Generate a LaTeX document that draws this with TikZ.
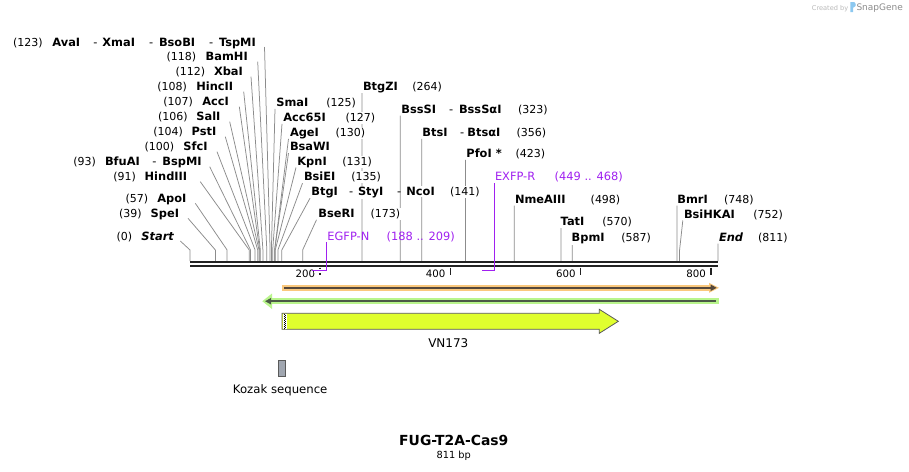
\documentclass[tikz,border=0pt]{standalone}
\usepackage{fontspec}
\setmainfont{DejaVu Sans}
\usetikzlibrary{arrows.meta}
\definecolor{siteg}{RGB}{140,140,140}
\definecolor{barblk}{RGB}{34,34,34}
\definecolor{primc}{RGB}{160,32,240}
\definecolor{orgband}{RGB}{250,200,125}
\definecolor{orgline}{RGB}{85,72,60}
\definecolor{grnband}{RGB}{185,245,140}
\definecolor{grnline}{RGB}{75,90,70}
\definecolor{featy}{RGB}{224,255,46}
\definecolor{featedge}{RGB}{90,90,90}
\definecolor{kozakc}{RGB}{160,166,176}
\definecolor{wmlight}{RGB}{185,185,185}
\definecolor{wmdark}{RGB}{140,140,140}
\definecolor{wmblue}{RGB}{140,200,240}
\pgfdeclarelayer{back}
\pgfdeclarelayer{bg}
\pgfsetlayers{back,bg,main}
\newcommand{\fszname}{\fontsize{11.4}{13}\selectfont}
\newcommand{\fsznum}{\fontsize{11}{13}\selectfont}
% #1 id, #2 bp, #3 number x, #4 name x, #5 name right edge, #6 y, #7 name
\newcommand{\LeftSite}[7]{%
  \begin{pgfonlayer}{bg}
  \coordinate (b#1) at ({190+#2*0.65105},261);
  \coordinate (s#1) at ({190+#2*0.65105},250);
  \coordinate (e#1) at ({#5+7},{#6+5});
  \draw[siteline] (b#1) -- (s#1) -- (e#1);
  \end{pgfonlayer}
  \node[numlbl] (m#1) at (#3,#6) {(#2)};
  \node[namelbl] (n#1) at (#4,#6) {#7};
}
% #1 id, #2 bp, #3 name x, #4 number x, #5 y, #6 name, #7 line end x
\newcommand{\RightSite}[7]{%
  \begin{pgfonlayer}{bg}
  \coordinate (b#1) at ({190+#2*0.65105},261);
  \coordinate (s#1) at ({190+#2*0.65105},250);
  \coordinate (e#1) at ({#7},{#5+6.5});
  \draw[siteline] (b#1) -- (s#1) -- (e#1);
  \end{pgfonlayer}
  \node[namelbl] (n#1) at (#3,#5) {#6};
  \node[numlbl] (m#1) at (#4,#5) {(#2)};
}
\begin{document}
\begin{tikzpicture}[x=1pt,y=-1pt,
  siteline/.style={draw=siteg, line width=0.75pt},
  lblbase/.style={inner xsep=0.5pt, inner ysep=1pt, fill=white, anchor=base west, yshift=-4.1pt},
  numlbl/.style={lblbase, font=\fsznum},
  namelbl/.style={lblbase, font=\fszname\bfseries},
  dashlbl/.style={lblbase, font=\fszname, fill=none},
  primer/.style={draw=primc, line width=1.5pt},
  primlbl/.style={anchor=base west, yshift=-4.1pt, inner sep=0.5pt, font=\fszname, text=primc},
  ticklbl/.style={anchor=base east, inner sep=0pt, font=\fontsize{10.2}{12}\selectfont},
  tickmark/.style={draw=barblk, line width=1.5pt},
  barline/.style={draw=barblk, line width=2.4pt}
]
\useasboundingbox (0,0) rectangle (909,471);
\begin{pgfonlayer}{back}
\fill[white] (0,0) rectangle (909,471);
\end{pgfonlayer}

% ---------------- left-side sites ----------------
\LeftSite{123}{123}{12.3}{51.7}{257.5}{42}{AvaI}
\node[dashlbl] (d123a) at (92.7,42) {-};
\node[namelbl] (n123b) at (101.7,42) {XmaI};
\node[dashlbl] (d123b) at (148.3,42) {-};
\node[namelbl] (n123c) at (158.3,42) {BsoBI};
\node[dashlbl] (d123c) at (208.3,42) {-};
\node[namelbl] (n123d) at (218.3,42) {TspMI};
\LeftSite{118}{118}{166}{205}{250.7}{56.7}{BamHI}
\LeftSite{112}{112}{175}{213.3}{244}{71.7}{XbaI}
\LeftSite{108}{108}{156.7}{195.7}{236.7}{86.7}{HincII}
\LeftSite{107}{107}{162.7}{201.7}{232.3}{101.7}{AccI}
\LeftSite{106}{106}{157.3}{195.7}{222.7}{116.7}{SalI}
\LeftSite{104}{104}{152.7}{191}{218.3}{131.7}{PstI}
\LeftSite{100}{100}{144}{182.7}{210}{146.7}{SfcI}
\LeftSite{93}{93}{72.7}{104.3}{202.7}{161.7}{BfuAI}
\node[dashlbl] (d93) at (151.7,161.7) {-};
\node[namelbl] (n93b) at (161.7,161.7) {BspMI};
\LeftSite{91}{91}{112.7}{144}{193.3}{176.7}{HindIII}
\LeftSite{57}{57}{125}{156.7}{188.3}{198.3}{ApoI}
\LeftSite{39}{39}{118.3}{150}{181}{213.3}{SpeI}
\LeftSite{0}{0}{116}{140.7}{173.3}{236}{\itshape Start}

% ---------------- right-side sites ----------------
\RightSite{125}{125}{275.7}{325.7}{102.3}{SmaI}{275}
\RightSite{127}{127}{282.7}{345}{117.3}{Acc65I}{282}
\RightSite{130}{130}{289.3}{335}{132.3}{AgeI}{288.5}
\begin{pgfonlayer}{bg}
\coordinate (bBsa) at ({190+130*0.65105},261);
\coordinate (sBsa) at ({190+130*0.65105},250);
\coordinate (eBsa) at (288.5,153.2);
\draw[siteline] (bBsa) -- (sBsa) -- (eBsa);
\end{pgfonlayer}
\node[namelbl] (nBsa) at (289.3,146.7) {BsaWI};
\RightSite{131}{131}{296.7}{341.7}{161}{KpnI}{296}
\RightSite{135}{135}{303.3}{350.7}{176.7}{BsiEI}{302.5}
\RightSite{141}{141}{310.7}{449.3}{191.7}{BtgI}{310}
\node[dashlbl] (d141a) at (348.3,191.7) {-};
\node[namelbl] (n141b) at (357.3,191.7) {StyI};
\node[dashlbl] (d141b) at (396.5,191.7) {-};
\node[namelbl] (n141c) at (405.7,191.7) {NcoI};
\RightSite{173}{173}{317.7}{370}{213.3}{BseRI}{316.5}
\RightSite{264}{264}{362.3}{411.7}{86.7}{BtgZI}{361.9}
\RightSite{323}{323}{400.7}{517.3}{109}{BssSI}{400.3}
\node[dashlbl] (d323) at (448.3,109) {-};
\node[namelbl] (n323b) at (458.3,109) {BssSαI};
\RightSite{356}{356}{421.7}{516}{132.3}{BtsI}{421.8}
\node[dashlbl] (d356) at (459.3,132.3) {-};
\node[namelbl] (n356b) at (466.7,132.3) {BtsαI};
\RightSite{423}{423}{465.7}{515}{153.3}{PfoI *}{465.4}
\RightSite{498}{498}{514.3}{590}{199}{NmeAIII}{514.2}
\RightSite{570}{570}{560}{601.7}{221.7}{TatI}{561.1}
\RightSite{587}{587}{571}{620.7}{237.3}{BpmI}{572.2}
\RightSite{748}{748}{676.7}{723.3}{199}{BmrI}{677}
\RightSite{752}{752}{683.3}{752.7}{214}{BsiHKAI}{682.8}
\RightSite{811}{811}{718.3}{757.3}{237}{\itshape End}{718}

% ---------------- sequence bar ----------------
\draw[barline] (190,262.2) -- (718,262.2);
\draw[barline] (190,266.2) -- (718,266.2);
\foreach \v/\tx in {200/320.2, 400/450.4, 600/580.6, 800/710.8}{
  \draw[tickmark] (\tx,267.5) -- (\tx,274.5);
  \node[ticklbl] (tk\v) at ({\tx-4.8},277.7) {\v};
}

% ---------------- primers ----------------
\coordinate (pNtop) at (326.4,242);
\coordinate (pNbend) at (326.4,270.7);
\coordinate (pNend) at (312.3,270.7);
\draw[white, line width=3.6pt] (313.5,270.7) -- (325.4,270.7);
\draw[primer] (pNtop) -- (pNbend) -- (pNend);
\node[primlbl] (lEGFP) at (326.7,236.7) {EGFP-N};
\node[primlbl] (rEGFP) at (386,236.7) {(188 .. 209)};

\coordinate (pRtop) at (494.3,183);
\coordinate (pRbend) at (494.3,270.7);
\coordinate (pRend) at (482.3,270.7);
\draw[white, line width=3.6pt] (483.3,270.7) -- (493.3,270.7);
\draw[primer] (pRtop) -- (pRbend) -- (pRend);
\node[primlbl] (lEXFP) at (494.3,176.7) {EXFP-R};
\node[primlbl] (rEXFP) at (554,176.7) {(449 .. 468)};

% ---------------- orange feature (forward) ----------------
\fill[orgband] (282.3,285) rectangle (712,290.6);
\fill[orgband] (709,282.8) -- (719,287.8) -- (709,292.8) -- cycle;
\draw[orgline, line width=1.5pt, -{Triangle[length=6pt,width=6pt]}] (284.3,287.8) -- (716.7,287.8);

% ---------------- green feature (reverse) ----------------
\fill[grnband] (270,298.4) rectangle (719,304.1);
\fill[grnband] (262.3,301.2) -- (272,293.5) -- (272,309) -- cycle;
\draw[grnline, line width=1.5pt, {Triangle[length=6pt,width=6pt]}-] (265,301.2) -- (716,301.2);

% ---------------- VN173 ----------------
\draw[featedge, fill=featy, line width=0.8pt]
  (282,313.3) -- (599.3,313.3) -- (599.3,309.3) -- (618.3,321.3)
  -- (599.3,333.3) -- (599.3,329.3) -- (282,329.3) -- cycle;
\fill[white] (282.8,313.8) rectangle (287.3,328.8);
\draw[black, line width=1pt, dash pattern=on 1pt off 1pt] (284.6,313.8) -- (284.6,328.8);
\draw[black, line width=1pt, dash pattern=on 1pt off 1pt, dash phase=1pt] (285.6,313.8) -- (285.6,328.8);
\node[font=\fontsize{12}{14}\selectfont, inner sep=0pt] (vn173) at (448.3,343.3) {VN173};

% ---------------- Kozak ----------------
\draw[featedge, fill=kozakc, line width=0.8pt] (278.3,360) rectangle (285,376);
\node[font=\fontsize{11.7}{14}\selectfont, inner sep=0pt] (kozak) at (280.2,390) {Kozak sequence};

% ---------------- title ----------------
\node[font=\fontsize{13.9}{16}\selectfont\bfseries, inner sep=0pt] (title) at (453.8,440) {FUG-T2A-Cas9};
\node[font=\fontsize{9.8}{12}\selectfont, inner sep=0pt] (size) at (453.7,455.5) {811 bp};

% ---------------- watermark ----------------
\node[anchor=base west, inner sep=0pt, font=\fontsize{6.6}{8}\selectfont, text=wmlight] (wm1) at (811.7,10) {Created by};
\fill[wmblue] (850.3,2) -- (854,2) .. controls (856.5,3.5) and (856.5,6.5) .. (853,7.8) -- (853,12) -- (850.3,12) -- cycle;
\node[anchor=base west, inner sep=0pt, font=\fontsize{9}{10}\selectfont, text=wmdark] (wm2) at (856.3,10.6) {SnapGene};
\end{tikzpicture}
\end{document}
